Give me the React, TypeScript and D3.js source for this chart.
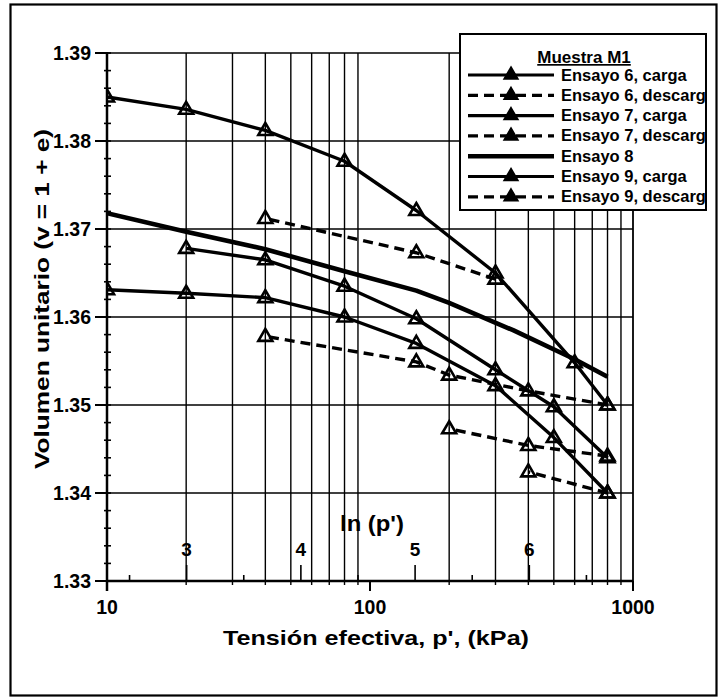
import React from "react";
import * as d3 from "d3";

// ---- Data ----
const ensayo6CargaP = [10, 20, 40, 80, 150, 300, 600, 800];
const ensayo6CargaV = [1.385, 1.3836, 1.3812, 1.3777, 1.3721, 1.365, 1.3548, 1.35];

const ensayo6DescargaAP = [300, 150, 40];
const ensayo6DescargaAV = [1.3643, 1.3673, 1.3712];

const ensayo6DescargaBP = [800, 400, 200, 150, 40];
const ensayo6DescargaBV = [1.35, 1.3516, 1.3534, 1.3549, 1.3578];

const ensayo7CargaP = [20, 40, 80, 150, 300, 500, 800];
const ensayo7CargaV = [1.3678, 1.3665, 1.3635, 1.3598, 1.354, 1.3498, 1.344];

const ensayo7DescargaP = [800, 400, 200];
const ensayo7DescargaV = [1.3442, 1.3454, 1.3473];

const ensayo8P = [10, 20, 40, 80, 150, 200, 350, 600, 800];
const ensayo8V = [1.3718, 1.3697, 1.3677, 1.3652, 1.363, 1.3616, 1.3585, 1.3552, 1.3532];

const ensayo9CargaP = [10, 20, 40, 80, 150, 300, 500, 800];
const ensayo9CargaV = [1.3631, 1.3627, 1.3622, 1.36, 1.357, 1.3522, 1.3463, 1.34];

const ensayo9DescargaP = [800, 400];
const ensayo9DescargaV = [1.34, 1.3424];

const xMajorTicks = [10, 100, 1000];
const xTickLabels = ["10", "100", "1000"];
const xMinorGrid = [20, 30, 40, 50, 60, 70, 80, 90, 200, 300, 400, 500, 600, 700, 800, 900];
const yMajorTicks = [1.33, 1.34, 1.35, 1.36, 1.37, 1.38, 1.39];
const yTickLabels = ["1.33", "1.34", "1.35", "1.36", "1.37", "1.38", "1.39"];
const lnMajorTicks = [3, 4, 5, 6];
const lnMinorTicks = [2.5, 3.5, 4.5, 5.5, 6.5];

const legendLabels = [
  "Ensayo 6, carga",
  "Ensayo 6, descarga",
  "Ensayo 7, carga",
  "Ensayo 7, descarga",
  "Ensayo 8",
  "Ensayo 9, carga",
  "Ensayo 9, descarga",
];
const legendDashed = [false, true, false, true, false, false, true];
const legendMarker = [true, true, true, true, false, true, true];

const FONT = "'Liberation Sans', Arial, Helvetica, sans-serif";

export default function App() {
  const W = 723;
  const H = 698;
  const left = 107, right = 633, top = 53, bottom = 581;

  const x = d3.scaleLog().domain([10, 1000]).range([left, right]);
  const y = d3.scaleLinear().domain([1.33, 1.39]).range([bottom, top]);

  const series = [
    { p: ensayo6CargaP, v: ensayo6CargaV, dashed: false, marker: true, w: 3.4 },
    { p: ensayo6DescargaAP, v: ensayo6DescargaAV, dashed: true, marker: true, w: 3.4 },
    { p: ensayo6DescargaBP, v: ensayo6DescargaBV, dashed: true, marker: true, w: 3.4 },
    { p: ensayo7CargaP, v: ensayo7CargaV, dashed: false, marker: true, w: 3.4 },
    { p: ensayo7DescargaP, v: ensayo7DescargaV, dashed: true, marker: true, w: 3.4 },
    { p: ensayo8P, v: ensayo8V, dashed: false, marker: false, w: 4.6 },
    { p: ensayo9CargaP, v: ensayo9CargaV, dashed: false, marker: true, w: 3.4 },
    { p: ensayo9DescargaP, v: ensayo9DescargaV, dashed: true, marker: true, w: 3.4 },
  ];

  const line = d3
    .line<[number, number]>()
    .x((d) => x(d[0]))
    .y((d) => y(d[1]))
    .curve(d3.curveLinear);

  const tri = "M0,-7.5L7,4.5L-7,4.5Z";

  const yMinor = d3.range(1.33, 1.3901, 0.002);

  const legX = 460, legY = 34, legW = 246, legH = 176;
  const rowY = (i: number) => 75 + i * 20.3;

  return (
    <svg
      width={W}
      height={H}
      style={{ position: "absolute", left: 0, top: 0, background: "#fff" }}
      fontFamily={FONT}
    >
      <defs>
        <clipPath id="legclip">
          <rect x={legX} y={legY} width={legW} height={legH} />
        </clipPath>
        <clipPath id="plotclip">
          <rect x={left} y={top - 10} width={right - left + 10} height={bottom - top + 10} />
        </clipPath>
      </defs>
      <rect x={0} y={0} width={W} height={H} fill="#fff" />
      {/* outer frame */}
      <rect x={10.5} y={4.5} width={706} height={691} fill="none" stroke="#000" strokeWidth={2.2} />

      {/* grid */}
      {xMinorGrid.map((t) => (
        <line key={"vg" + t} x1={x(t)} x2={x(t)} y1={top} y2={bottom + 4} stroke="#000" strokeWidth={1.4} />
      ))}
      {yMajorTicks.map((t) => (
        <line key={"hg" + t} x1={left} x2={right} y1={y(t)} y2={y(t)} stroke="#000" strokeWidth={1.5} />
      ))}
      <line x1={right} x2={right} y1={top} y2={bottom + 10} stroke="#000" strokeWidth={1.8} />

      {/* axes */}
      <line x1={left} x2={left} y1={top - 1} y2={bottom + 10} stroke="#000" strokeWidth={2.5} />
      <line x1={left} x2={right} y1={bottom} y2={bottom} stroke="#000" strokeWidth={2.5} />
      {yMajorTicks.map((t) => (
        <line key={"ymt" + t} x1={left - 12} x2={left} y1={y(t)} y2={y(t)} stroke="#000" strokeWidth={2} />
      ))}
      {yMinor.map((t, i) => (
        <line key={"ymn" + i} x1={left - 3} x2={left + 4} y1={y(t)} y2={y(t)} stroke="#000" strokeWidth={1.6} />
      ))}
      {xMajorTicks.map((t) => (
        <line key={"xmt" + t} x1={x(t)} x2={x(t)} y1={bottom} y2={bottom + 10} stroke="#000" strokeWidth={2} />
      ))}
      {/* ln(p') secondary ticks */}
      {lnMajorTicks.map((t) => (
        <line key={"lnM" + t} x1={x(Math.exp(t))} x2={x(Math.exp(t))} y1={bottom - 16} y2={bottom} stroke="#000" strokeWidth={1.6} />
      ))}
      {lnMinorTicks.map((t) => (
        <line key={"lnm" + t} x1={x(Math.exp(t))} x2={x(Math.exp(t))} y1={bottom - 6} y2={bottom} stroke="#000" strokeWidth={1.6} />
      ))}
      {lnMajorTicks.map((t) => (
        <text key={"lnl" + t} x={x(Math.exp(t))} y={556} textAnchor="middle" fontSize={19} fontWeight="bold">
          {t}
        </text>
      ))}
      <text x={372} y={531} textAnchor="middle" fontSize={22} fontWeight="bold" textLength={64} lengthAdjust="spacingAndGlyphs">
        ln (p')
      </text>

      {/* tick labels */}
      {yMajorTicks.map((t, i) => (
        <text key={"yl" + t} x={91} y={y(t) + 7} textAnchor="end" fontSize={19.5} fontWeight="bold">
          {yTickLabels[i]}
        </text>
      ))}
      {xMajorTicks.map((t, i) => (
        <text key={"xl" + t} x={x(t)} y={614} textAnchor="middle" fontSize={19.5} fontWeight="bold">
          {xTickLabels[i]}
        </text>
      ))}

      {/* axis titles */}
      <text x={376} y={645} textAnchor="middle" fontSize={21} fontWeight="bold" textLength={306} lengthAdjust="spacingAndGlyphs">
        Tensión efectiva, p', (kPa)
      </text>
      <text
        transform="translate(49,299) rotate(-90)"
        textAnchor="middle"
        fontSize={21}
        fontWeight="bold"
        textLength={340}
        lengthAdjust="spacingAndGlyphs"
      >
        Volumen unitario (v = 1 + e)
      </text>

      {/* series */}
      <g clipPath="url(#plotclip)">
        {series.map((s, i) => (
          <path
            key={"s" + i}
            d={line(s.p.map((p, j) => [p, s.v[j]] as [number, number])) || ""}
            fill="none"
            stroke="#000"
            strokeWidth={s.w}
            strokeDasharray={s.dashed ? "10,6" : undefined}
            strokeLinejoin="round"
          />
        ))}
        {series.map((s, i) =>
          s.marker
            ? s.p.map((p, j) => (
                <path
                  key={"m" + i + "-" + j}
                  d={tri}
                  transform={`translate(${x(p)},${y(s.v[j])})`}
                  fill="none"
                  stroke="#000"
                  strokeWidth={2.6}
                  strokeLinejoin="miter"
                />
              ))
            : null
        )}
      </g>

      {/* legend */}
      <rect x={legX} y={legY} width={legW} height={legH} fill="#fff" stroke="#000" strokeWidth={2} />
      <text x={584} y={63} textAnchor="middle" fontSize={17} fontWeight="bold" textDecoration="underline">
        Muestra M1
      </text>
      <g clipPath="url(#legclip)">
        {legendLabels.map((lab, i) => (
          <g key={"lg" + i}>
            <line
              x1={468}
              x2={554}
              y1={rowY(i)}
              y2={rowY(i)}
              stroke="#000"
              strokeWidth={legendMarker[i] ? 3.2 : 4.6}
              strokeDasharray={legendDashed[i] ? "10,6" : undefined}
            />
            {legendMarker[i] ? (
              <path d={tri} transform={`translate(511,${rowY(i) - 0.5})`} fill="#000" stroke="#000" strokeWidth={1.5} />
            ) : null}
            <text x={561} y={rowY(i) + 5.5} fontSize={16.5} fontWeight="bold">
              {lab}
            </text>
          </g>
        ))}
      </g>
    </svg>
  );
}
